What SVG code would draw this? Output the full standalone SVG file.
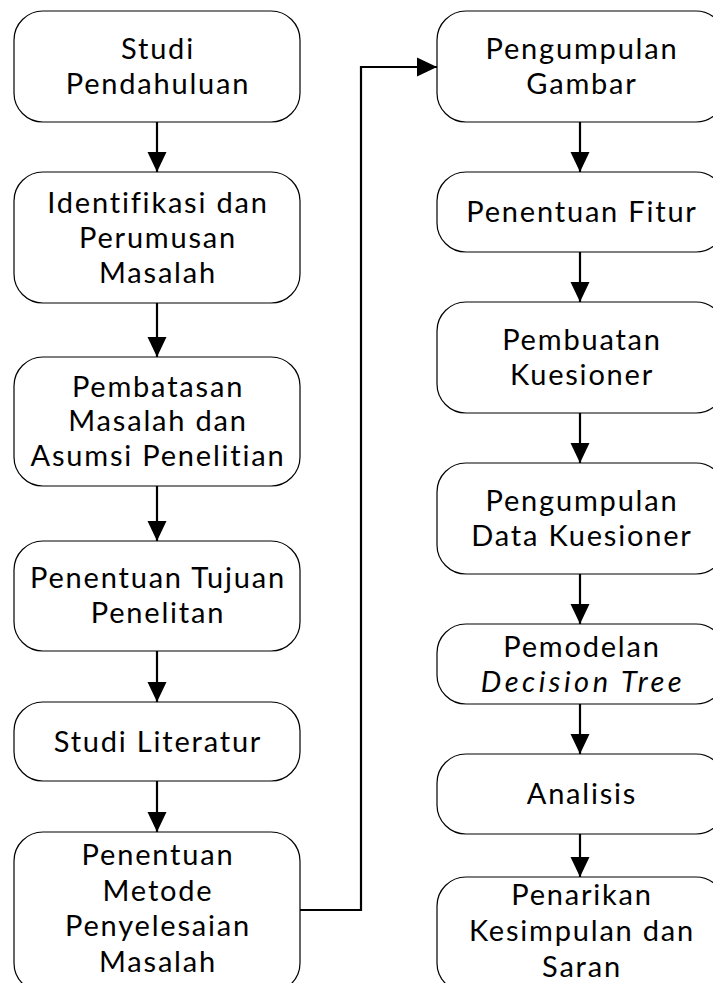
<svg xmlns="http://www.w3.org/2000/svg" width="713" height="983" viewBox="0 0 713 983">
<defs>
<style>
.box{fill:#fff;stroke:#000;stroke-width:1.2}
.t{font-family:Lato,"Noto Sans",sans-serif;font-size:29px;fill:#000;text-anchor:middle;letter-spacing:1.8px;font-variant-ligatures:none}
.i{font-style:italic;letter-spacing:3.5px}
.c{fill:none;stroke:#000;stroke-width:2.2}
</style>
<marker id="ah" viewBox="0 0 20 20" refX="20" refY="10" markerWidth="20" markerHeight="20" markerUnits="userSpaceOnUse" orient="auto">
<path d="M0,0.5 L20,10 L0,19.5 Z" fill="#000"/>
</marker>
</defs>
<rect width="713" height="983" fill="#fff"/>
<g id="connectors">
<path class="c" d="M157,122 V172" marker-end="url(#ah)"/>
<path class="c" d="M157,303 V357" marker-end="url(#ah)"/>
<path class="c" d="M157,486 V541" marker-end="url(#ah)"/>
<path class="c" d="M157,651 V702" marker-end="url(#ah)"/>
<path class="c" d="M157,781 V832" marker-end="url(#ah)"/>
<path class="c" d="M300,910 H361 V67 H437" marker-end="url(#ah)"/>
<path class="c" d="M580,122 V172" marker-end="url(#ah)"/>
<path class="c" d="M580,252 V302" marker-end="url(#ah)"/>
<path class="c" d="M580,413 V463" marker-end="url(#ah)"/>
<path class="c" d="M580,574 V624" marker-end="url(#ah)"/>
<path class="c" d="M580,704 V754" marker-end="url(#ah)"/>
<path class="c" d="M580,834 V877" marker-end="url(#ah)"/>
</g>
<g id="n1"><rect class="box" x="14" y="11" width="286" height="111" rx="29"/>
<text class="t" x="158" y="59">Studi</text><text class="t" x="158" y="94">Pendahuluan</text></g>
<g id="n2"><rect class="box" x="14" y="172" width="286" height="131" rx="29"/>
<text class="t" x="158" y="213">Identifikasi dan</text><text class="t" x="158" y="248">Perumusan</text><text class="t" x="158" y="283">Masalah</text></g>
<g id="n3"><rect class="box" x="14" y="357" width="286" height="129" rx="29"/>
<text class="t" x="158" y="397">Pembatasan</text><text class="t" x="158" y="431">Masalah dan</text><text class="t" x="158" y="466">Asumsi Penelitian</text></g>
<g id="n4"><rect class="box" x="14" y="541" width="286" height="110" rx="29"/>
<text class="t" x="158" y="588">Penentuan Tujuan</text><text class="t" x="158" y="623">Penelitan</text></g>
<g id="n5"><rect class="box" x="14" y="702" width="286" height="79" rx="29"/>
<text class="t" x="158" y="752">Studi Literatur</text></g>
<g id="n6"><rect class="box" x="14" y="832" width="286" height="160" rx="29"/>
<text class="t" x="158" y="865">Penentuan</text><text class="t" x="158" y="901">Metode</text><text class="t" x="158" y="936">Penyelesaian</text><text class="t" x="158" y="972">Masalah</text></g>
<g id="n7"><rect class="box" x="437" y="11" width="288" height="111" rx="29"/>
<text class="t" x="582" y="59">Pengumpulan</text><text class="t" x="582" y="94">Gambar</text></g>
<g id="n8"><rect class="box" x="437" y="172" width="288" height="80" rx="29"/>
<text class="t" x="582" y="222">Penentuan Fitur</text></g>
<g id="n9"><rect class="box" x="437" y="302" width="288" height="111" rx="29"/>
<text class="t" x="582" y="350">Pembuatan</text><text class="t" x="582" y="385">Kuesioner</text></g>
<g id="n10"><rect class="box" x="437" y="463" width="288" height="111" rx="29"/>
<text class="t" x="582" y="511">Pengumpulan</text><text class="t" x="582" y="546">Data Kuesioner</text></g>
<g id="n11"><rect class="box" x="437" y="624" width="288" height="80" rx="29"/>
<text class="t" x="582" y="657">Pemodelan</text><text class="t i" x="583" y="692">Decision Tree</text></g>
<g id="n12"><rect class="box" x="437" y="754" width="288" height="80" rx="29"/>
<text class="t" x="582" y="804">Analisis</text></g>
<g id="n13"><rect class="box" x="437" y="877" width="288" height="115" rx="29"/>
<text class="t" x="582" y="905">Penarikan</text><text class="t" x="582" y="941">Kesimpulan dan</text><text class="t" x="582" y="977">Saran</text></g>
</svg>
